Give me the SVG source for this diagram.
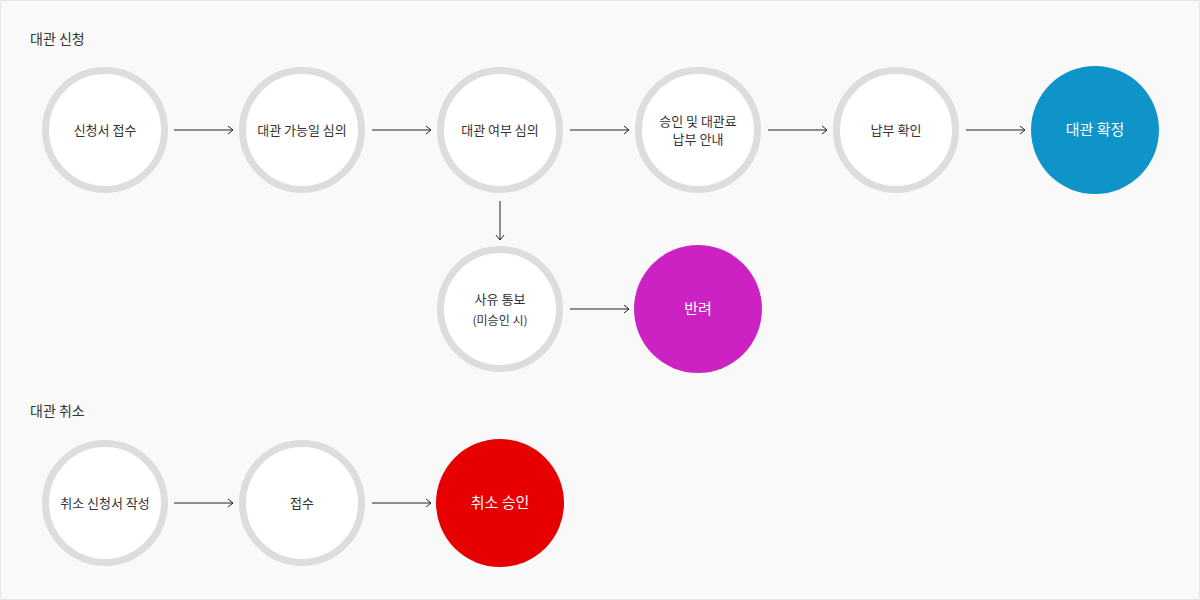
<svg xmlns="http://www.w3.org/2000/svg" width="1200" height="600" viewBox="0 0 1200 600">
<style>
.n{fill:#fff;stroke:#dddddd;stroke-width:7}
text{font-family:"Noto Sans CJK KR","Noto Sans",sans-serif;font-size:13px;fill:#333;text-anchor:middle}
.w{fill:#fff;font-size:15px}
.h{font-size:14px;text-anchor:start;fill:#333}
.c line{stroke:#222;stroke-width:1;fill:none}
.c path{stroke:#222;stroke-width:1;fill:none}
</style>
<rect x="0.5" y="0.5" width="1199" height="599" fill="#f9f9f9" stroke="#e6e6e6"/>
<text class="h" x="30" y="44">대관 신청</text>
<text class="h" x="30" y="416">대관 취소</text>
<g class="c" id="connectors">
<line x1="174" y1="130" x2="233" y2="130"/><path d="M228,126 L233,130 L228,134"/>
<line x1="372" y1="130" x2="431" y2="130"/><path d="M426,126 L431,130 L426,134"/>
<line x1="570" y1="130" x2="629" y2="130"/><path d="M624,126 L629,130 L624,134"/>
<line x1="768" y1="130" x2="827" y2="130"/><path d="M822,126 L827,130 L822,134"/>
<line x1="966" y1="130" x2="1025" y2="130"/><path d="M1020,126 L1025,130 L1020,134"/>
<line x1="500" y1="201" x2="500" y2="240"/><path d="M496,235 L500,240 L504,235"/>
<line x1="570" y1="309" x2="629" y2="309"/><path d="M624,305 L629,309 L624,313"/>
<line x1="174" y1="503" x2="233" y2="503"/><path d="M228,499 L233,503 L228,507"/>
<line x1="372" y1="503" x2="431" y2="503"/><path d="M426,499 L431,503 L426,507"/>
</g>
<g id="n1"><circle class="n" cx="105" cy="130" r="59.5"/><text x="105" y="135">신청서 접수</text></g>
<g id="n2"><circle class="n" cx="302" cy="130" r="59.5"/><text x="302" y="135">대관 가능일 심의</text></g>
<g id="n3"><circle class="n" cx="500" cy="130" r="59.5"/><text x="500" y="135">대관 여부 심의</text></g>
<g id="n4"><circle class="n" cx="698" cy="130" r="59.5"/><text x="698" y="126">승인 및 대관료</text><text x="698" y="144">납부 안내</text></g>
<g id="n5"><circle class="n" cx="896" cy="130" r="59.5"/><text x="896" y="135">납부 확인</text></g>
<g id="n6"><circle cx="1095" cy="130" r="64" fill="#0e94c9"/><text class="w" x="1095" y="135">대관 확정</text></g>
<g id="n7"><circle class="n" cx="500" cy="309" r="59.5"/><text x="500" y="304">사유 통보</text><text x="500" y="325" style="font-size:12px">(미승인 시)</text></g>
<g id="n8"><circle cx="698" cy="309" r="64" fill="#cc22c4"/><text class="w" x="698" y="314">반려</text></g>
<g id="n9"><circle class="n" cx="105" cy="503" r="59.5"/><text x="105" y="508">취소 신청서 작성</text></g>
<g id="n10"><circle class="n" cx="302" cy="503" r="59.5"/><text x="302" y="508">접수</text></g>
<g id="n11"><circle cx="500" cy="503" r="64" fill="#e60000"/><text class="w" x="500" y="508">취소 승인</text></g>
</svg>
